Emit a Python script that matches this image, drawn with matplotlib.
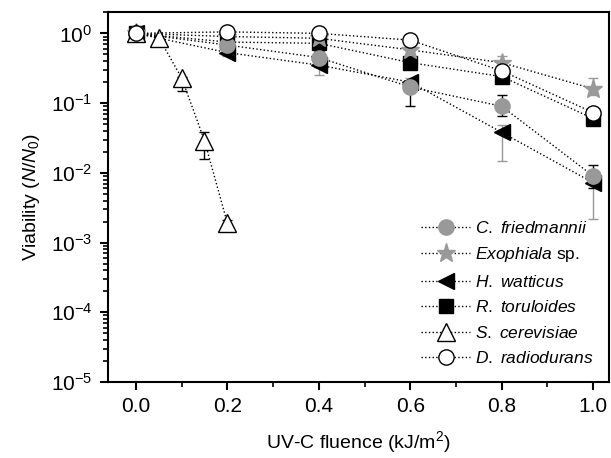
import matplotlib
matplotlib.use("Agg")
import matplotlib.pyplot as plt
from matplotlib.ticker import LogLocator, MultipleLocator, FixedLocator

plt.rcParams['font.family'] = ['Liberation Sans', 'DejaVu Sans']
plt.rcParams['mathtext.fontset'] = 'custom'
plt.rcParams['mathtext.rm'] = 'Liberation Sans'
plt.rcParams['mathtext.it'] = 'Liberation Sans:italic'

# fluence (kJ/m2)
x_main = [0.0, 0.2, 0.4, 0.6, 0.8, 1.0]
x_sc = [0.0, 0.05, 0.1, 0.15, 0.2]

# viability N/N0 with lower / upper error
cf = [1.0, 0.68, 0.45, 0.17, 0.09, 0.009]
cf_lo = [0.05, 0.08, 0.12, 0.08, 0.025, 0.003]
cf_hi = [0.05, 0.08, 0.10, 0.04, 0.04, 0.004]

exo = [1.0, 0.9, 0.85, 0.58, 0.38, 0.16]
exo_lo = [0.05, 0.1, 0.1, 0.08, 0.05, 0.03]
exo_hi = [0.05, 0.1, 0.1, 0.08, 0.1, 0.07]

hw = [1.0, 0.53, 0.35, 0.2, 0.038, 0.0072]
hw_lo = [0.05, 0.05, 0.1, 0.05, 0.023, 0.005]
hw_hi = [0.05, 0.05, 0.05, 0.03, 0.01, 0.002]

rt = [1.0, 0.75, 0.72, 0.38, 0.24, 0.06]
rt_lo = [0.05, 0.1, 0.1, 0.05, 0.04, 0.012]
rt_hi = [0.05, 0.1, 0.1, 0.05, 0.04, 0.01]

sc = [1.0, 0.87, 0.23, 0.029, 0.0019]
sc_lo = [0.05, 0.15, 0.08, 0.013, 0.0003]
sc_hi = [0.05, 0.05, 0.01, 0.01, 0.0002]

dr = [1.0, 1.05, 1.0, 0.8, 0.29, 0.073]
dr_lo = [0.05, 0.1, 0.1, 0.1, 0.05, 0.01]
dr_hi = [0.05, 0.1, 0.1, 0.1, 0.05, 0.01]

gray = '#999999'

fig = plt.figure(figsize=(6.11, 4.58), dpi=100)
ax = fig.add_axes([0.176, 0.166, 0.821, 0.807])

def series(x, y, lo, hi, marker, face, edge, ecol, ms, label, z):
    ax.errorbar(x, y, yerr=[lo, hi], fmt='none', ecolor=ecol, elinewidth=1.0,
                capsize=3.5, capthick=1.0, zorder=z)
    ln, = ax.plot(x, y, linestyle=':', color='black', lw=1.0, marker=marker, ms=ms,
                  mfc=face, mec=edge, mew=1.0, label=label, zorder=z + 0.5)
    return ln

h_hw = series(x_main, hw, hw_lo, hw_hi, '<', 'black', 'black', gray, 11, r'$\it{H.\ watticus}$', 2)
h_rt = series(x_main, rt, rt_lo, rt_hi, 's', 'black', 'black', 'black', 9.5, r'$\it{R.\ toruloides}$', 3)
h_exo = series(x_main, exo, exo_lo, exo_hi, '*', gray, gray, gray, 14, r'$\it{Exophiala}$ sp.', 4)
h_cf = series(x_main, cf, cf_lo, cf_hi, 'o', gray, gray, 'black', 11, r'$\it{C.\ friedmannii}$', 5)
h_sc = series(x_sc, sc, sc_lo, sc_hi, '^', 'white', 'black', 'black', 12.5, r'$\it{S.\ cerevisiae}$', 6)
h_dr = series(x_main, dr, dr_lo, dr_hi, 'o', 'white', 'black', 'black', 11, r'$\it{D.\ radiodurans}$', 7)

ax.set_yscale('log')
ax.set_ylim(1e-5, 2)
ax.set_xlim(-0.062, 1.035)
ax.xaxis.set_major_locator(FixedLocator([0.0, 0.2, 0.4, 0.6, 0.8, 1.0]))
ax.xaxis.set_minor_locator(MultipleLocator(0.1))
ax.set_xticklabels(['0.0', '0.2', '0.4', '0.6', '0.8', '1.0'])
ax.yaxis.set_major_locator(LogLocator(base=10, numticks=10))
ax.yaxis.set_minor_locator(LogLocator(base=10, subs=range(2, 10), numticks=20))

for s in ax.spines.values():
    s.set_linewidth(1.5)
ax.tick_params(which='major', direction='out', length=6, width=1.5, labelsize=15, pad=5)
ax.tick_params(which='minor', direction='out', length=3.5, width=1.2)

ax.set_xlabel(r'UV-C fluence (kJ/m$^2$)', fontsize=14, labelpad=9)
ax.set_ylabel(r'Viability ($\it{N}$/$\it{N}_0$)', fontsize=14, labelpad=6)

ax.legend([h_cf, h_exo, h_hw, h_rt, h_sc, h_dr],
          [h.get_label() for h in [h_cf, h_exo, h_hw, h_rt, h_sc, h_dr]],
          loc='lower right', frameon=False, fontsize=12.5, numpoints=1,
          handlelength=2.8, handletextpad=0.3, labelspacing=0.55,
          bbox_to_anchor=(1.0, 0.0))

fig.savefig('out.png', dpi=100)
